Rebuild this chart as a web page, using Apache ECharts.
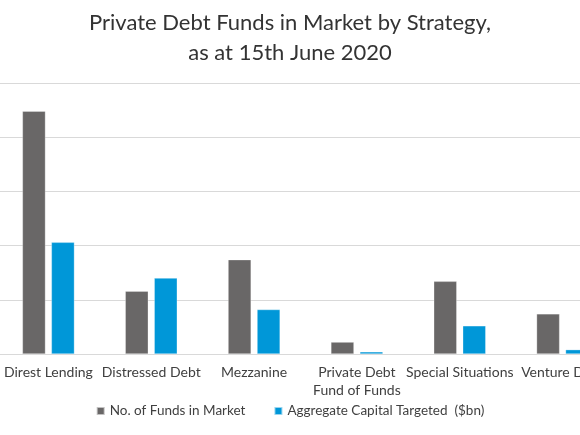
<!DOCTYPE html>
<html>
<head>
<meta charset="utf-8">
<script src="https://cdn.jsdelivr.net/npm/echarts@6/dist/echarts.min.js"></script>
<style>
	html, body {margin: 0; padding: 0; background: #fff;}
	#main {width: 580px; height: 435px;}
</style>
</head>
<body>
<div id="main"></div>
<script>
	var categories = ['Direst Lending', 'Distressed Debt', 'Mezzanine', 'Private Debt\nFund of Funds', 'Special Situations', 'Venture Debt'];
	var fundsInMarket = [224, 58, 87, 11, 67, 37];
	var capitalTargeted = [103, 70, 41, 2, 26, 4];
	var seriesNames = ['No. of Funds in Market', 'Aggregate Capital Targeted  ($bn)'];

	var myChart = echarts.init(document.getElementById('main'));
	var option = {
		animation: false,
		textStyle: {fontFamily: 'Lato'},
		title: {
			text: 'Private Debt Funds in Market by Strategy,\nas at 15th June 2020',
			left: 'center',
			top: 3,
			textStyle: {fontSize: 22, fontWeight: 'normal', color: '#333', lineHeight: 30, fontFamily: 'Lato'}
		},
		legend: {
			data: seriesNames,
			bottom: 12,
			left: 'center',
			icon: 'rect',
			itemWidth: 8,
			itemHeight: 8,
			itemGap: 28,
			textStyle: {fontSize: 13.5, color: '#404040', fontFamily: 'Lato'}
		},
		grid: {left: -3, top: 83, width: 617, height: 271, containLabel: false, outerBoundsMode: 'none'},
		xAxis: {
			type: 'category',
			data: categories,
			axisTick: {show: false},
			axisLine: {lineStyle: {color: '#d9d9d9'}},
			axisLabel: {interval: 0, margin: 9, fontSize: 14, lineHeight: 18, color: '#404040', fontFamily: 'Lato'}
		},
		yAxis: {
			type: 'value',
			min: 0,
			max: 250,
			interval: 50,
			axisLabel: {show: false},
			axisLine: {show: false},
			axisTick: {show: false},
			splitLine: {lineStyle: {color: '#d9d9d9'}}
		},
		series: [{
			name: seriesNames[0],
			type: 'bar',
			data: fundsInMarket,
			barWidth: 23,
			barGap: '26%',
			itemStyle: {color: '#696767', borderColor: 'rgba(255,255,255,0.6)', borderWidth: 0.5}
		}, {
			name: seriesNames[1],
			type: 'bar',
			data: capitalTargeted,
			barWidth: 23,
			itemStyle: {color: '#0097d8', borderColor: 'rgba(255,255,255,0.6)', borderWidth: 0.5}
		}]
	};
	myChart.setOption(option);
</script>
</body>
</html>
